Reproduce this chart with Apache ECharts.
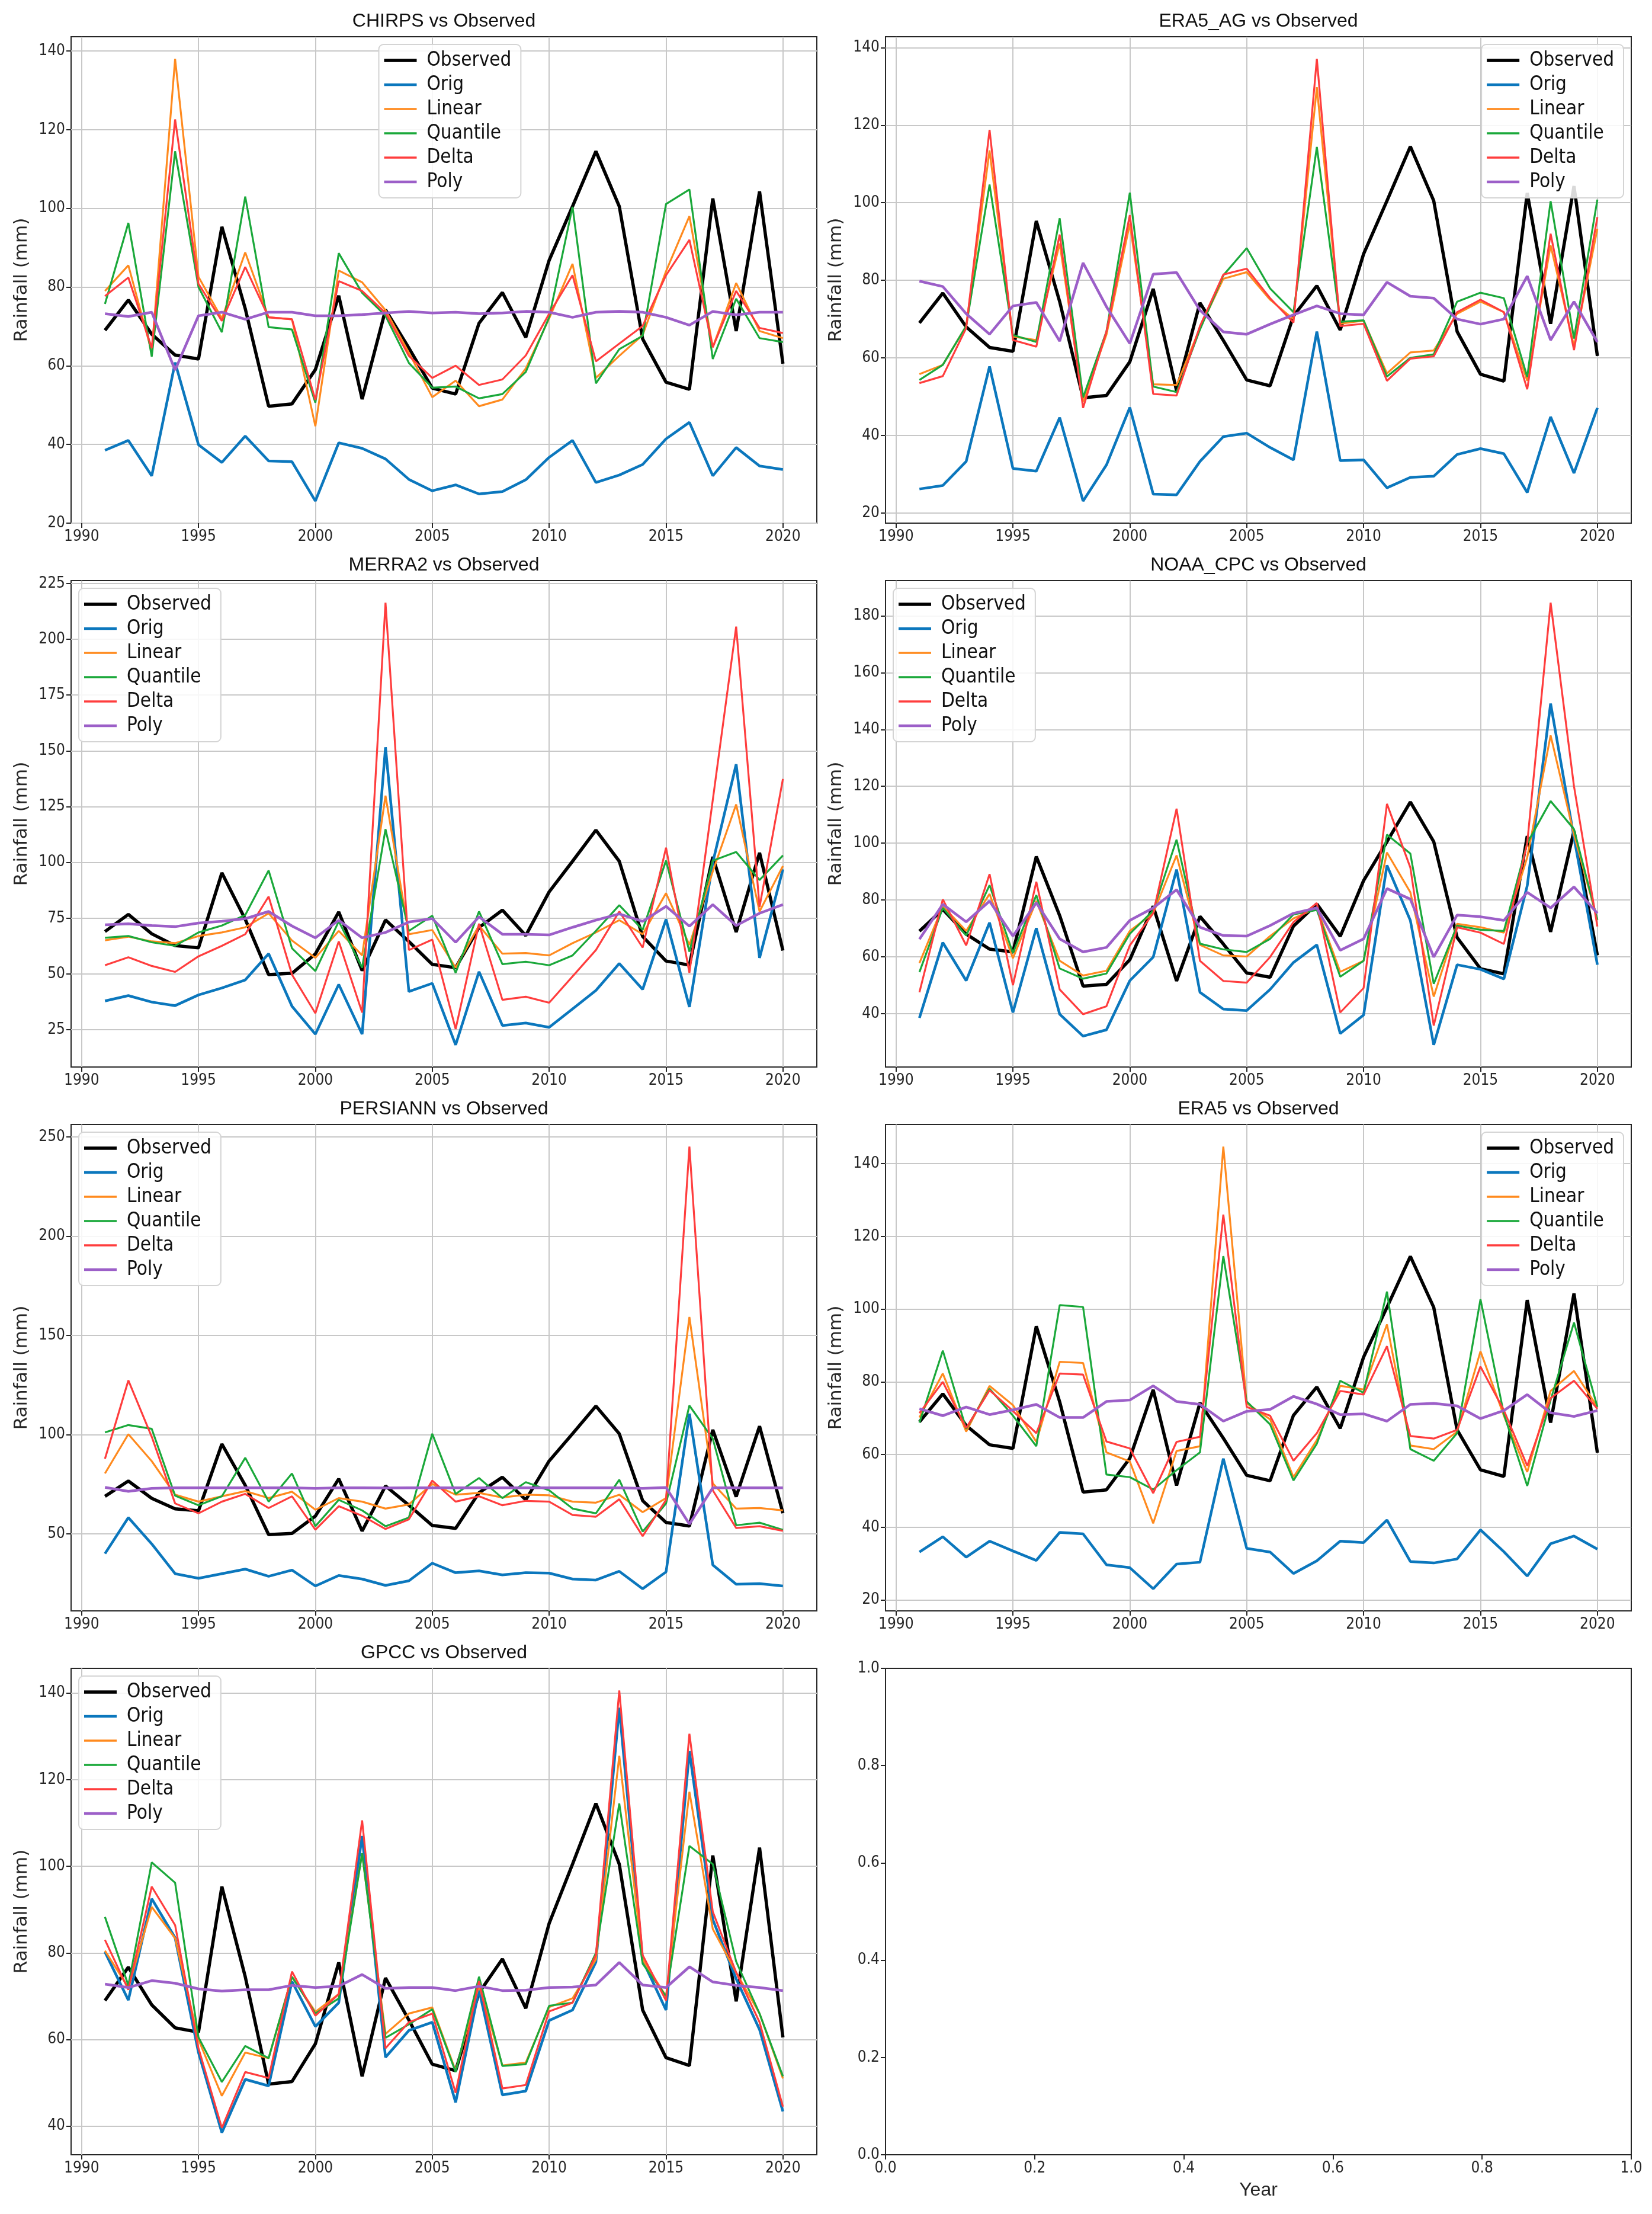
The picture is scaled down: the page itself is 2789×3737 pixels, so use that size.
<!DOCTYPE html>
<html><head><meta charset="utf-8">
<script src="https://cdn.jsdelivr.net/npm/echarts@6/dist/echarts.min.js"></script>
<style>html,body{margin:0;padding:0;background:#fff}#c{width:2789px;height:3737px}</style>
</head><body><div id="c"></div><script>
const years = [1991,1992,1993,1994,1995,1996,1997,1998,1999,2000,2001,2002,2003,2004,2005,2006,2007,2008,2009,2010,2011,2012,2013,2014,2015,2016,2017,2018,2019,2020];
const observed = [69.0,76.7,68.0,62.7,61.7,95.3,74.5,49.7,50.3,59.0,77.8,51.5,74.2,64.5,54.3,52.8,70.8,78.6,67.2,86.8,100.5,114.5,100.5,66.8,55.8,54.0,102.5,68.8,104.3,60.5];

const chirps_orig = [38.5,41.0,32.0,60.8,39.9,35.4,42.1,35.8,35.6,25.6,40.4,39.0,36.3,31.1,28.2,29.7,27.4,28.0,31.0,36.7,41.0,30.3,32.2,34.9,41.4,45.6,32.0,39.2,34.5,33.6];
const chirps_linear = [79.0,85.5,63.5,138.0,82.6,72.0,88.8,72.3,71.8,44.6,84.2,81.2,74.1,63.3,52.0,56.2,49.7,51.4,59.3,72.0,85.9,56.9,62.5,67.8,84.0,98.0,64.7,81.0,68.8,67.0];
const chirps_quantile = [75.7,96.3,62.3,114.5,80.0,68.5,103.0,69.8,69.2,50.6,88.6,78.5,72.7,60.7,54.4,54.7,51.7,52.8,58.4,72.3,100.4,55.5,64.2,67.6,101.1,104.8,61.7,77.0,67.0,66.0];
const chirps_delta = [77.7,82.4,64.5,122.6,80.8,71.4,85.1,72.3,71.8,51.3,81.5,79.0,73.4,62.5,56.9,60.0,55.1,56.5,62.6,73.2,83.0,61.1,65.6,70.1,83.0,92.0,64.7,79.0,69.6,68.3];
const chirps_poly = [73.2,72.5,73.6,58.9,72.7,73.6,71.8,73.6,73.6,72.7,72.7,73.0,73.4,73.8,73.4,73.6,73.2,73.4,73.8,73.6,72.3,73.6,73.8,73.6,72.3,70.3,73.8,72.9,73.6,73.6];

const era5ag_orig = [26.2,27.1,33.3,57.8,31.5,30.8,44.6,23.1,32.4,47.2,24.9,24.7,33.3,39.7,40.6,36.9,33.7,66.8,33.5,33.7,26.5,29.2,29.5,35.1,36.6,35.3,25.3,44.8,30.3,47.1];
const era5ag_linear = [55.8,58.2,68.2,113.5,65.5,64.6,89.5,48.7,66.0,94.6,53.2,53.0,67.7,80.4,82.1,75.0,70.0,129.8,68.8,69.6,56.0,61.4,61.9,71.4,74.5,71.8,54.1,89.0,63.0,93.3];
const era5ag_quantile = [54.3,58.2,68.2,104.7,65.9,64.1,96.0,49.8,66.8,102.6,52.6,51.2,67.3,81.3,88.3,77.9,71.8,114.4,69.3,69.7,55.2,60.0,60.9,74.5,76.8,75.4,55.1,100.4,65.0,100.8];
const era5ag_delta = [53.5,55.3,67.7,118.8,64.6,62.9,91.8,47.1,66.8,96.8,50.7,50.3,68.2,81.5,83.0,75.4,69.1,137.1,68.2,68.8,54.1,59.8,60.4,71.8,75.0,71.8,51.9,92.0,62.0,96.3];
const era5ag_poly = [79.8,78.4,71.4,66.1,73.4,74.3,64.3,84.5,73.2,63.7,81.6,82.0,72.3,66.7,66.1,68.7,71.1,73.4,71.4,71.1,79.5,75.9,75.4,70.0,68.7,70.0,81.1,64.6,74.5,64.1];

const merra2_orig = [37.9,40.3,37.4,35.8,40.6,43.7,47.3,59.1,35.5,23.0,45.3,23.0,151.6,42.1,45.8,18.2,51.0,26.9,28.0,26.1,34.3,42.6,54.7,43.1,74.5,35.2,100.0,144.0,57.2,96.9];
const merra2_linear = [65.1,66.7,64.6,63.8,67.0,68.6,70.9,77.2,65.0,57.2,69.3,58.3,129.9,67.8,69.7,52.8,71.7,59.1,59.4,58.3,63.8,68.6,74.1,67.8,86.2,63.0,96.0,126.0,78.0,98.4];
const merra2_quantile = [66.2,67.0,64.2,62.6,68.6,71.7,76.4,96.4,61.5,51.3,73.6,52.8,114.9,69.3,76.1,50.5,78.0,54.4,55.5,53.9,58.3,69.3,80.8,69.8,100.8,60.0,100.8,104.7,92.1,103.1];
const merra2_delta = [53.9,57.5,53.6,50.9,57.9,62.6,67.8,84.7,49.7,32.4,64.6,32.7,216.4,60.7,65.4,25.3,72.5,38.4,39.8,37.1,48.9,60.7,78.0,61.8,106.6,50.5,128.0,205.7,80.0,137.4];
const merra2_poly = [72.0,72.5,71.7,71.2,72.8,73.6,74.8,78.0,71.5,66.2,74.1,66.2,68.6,73.3,74.8,64.2,75.6,67.8,67.8,67.5,70.9,74.1,76.9,73.6,80.3,71.4,81.1,71.7,77.2,81.1];

const noaa_orig = [38.5,65.0,51.6,72.0,40.4,70.1,39.8,32.1,34.3,51.6,59.9,90.7,47.5,41.6,41.1,48.5,58.0,64.2,33.0,39.5,92.2,72.8,29.0,57.2,55.6,52.2,85.0,149.1,102.0,57.2];
const noaa_linear = [57.8,77.8,69.1,82.1,59.5,79.6,58.6,53.4,55.1,69.1,75.3,95.7,64.2,60.5,60.1,67.3,73.5,77.2,54.7,58.6,96.7,82.7,46.0,71.6,70.4,68.5,95.0,137.9,103.0,73.0];
const noaa_quantile = [54.6,77.2,67.5,85.2,61.3,81.7,55.9,52.3,54.1,68.1,76.3,101.2,64.6,62.6,61.7,66.3,74.9,76.5,53.0,58.6,103.0,96.3,50.5,71.0,69.5,69.1,100.0,114.8,104.9,73.0];
const noaa_delta = [47.5,80.2,64.0,89.1,50.0,86.4,48.5,39.8,42.6,64.0,75.3,112.1,58.6,51.5,50.9,59.9,72.2,78.9,40.4,49.0,113.8,91.4,35.8,70.4,68.5,64.5,100.0,184.6,120.0,70.7];
const noaa_poly = [66.2,78.5,72.3,79.6,67.3,79.0,66.3,61.7,63.3,72.8,77.2,83.6,70.4,67.5,67.3,71.0,75.3,77.2,62.3,66.3,84.0,80.3,59.9,74.7,74.1,72.8,82.7,77.2,84.6,75.3];

const persiann_orig = [40.1,58.3,45.0,30.0,27.7,30.0,32.3,28.7,31.8,23.8,29.1,27.3,24.1,26.4,35.3,30.5,31.4,29.4,30.5,30.3,27.3,26.8,31.2,22.4,30.9,110.6,34.4,24.7,25.0,23.8];
const persiann_linear = [80.5,100.3,86.7,69.8,66.3,69.0,71.6,68.1,71.3,62.2,68.1,66.3,62.8,64.9,75.2,69.8,70.7,68.4,69.8,69.5,66.3,65.8,69.8,61.0,68.1,159.3,75.5,62.8,63.1,61.9];
const persiann_quantile = [101.2,104.9,103.0,69.3,64.5,69.0,88.4,66.3,80.5,53.9,67.2,61.9,53.9,58.3,100.5,70.2,78.2,68.1,76.1,72.0,62.8,60.4,77.3,51.2,65.4,114.7,98.0,54.4,55.7,52.1];
const persiann_delta = [87.9,127.4,99.0,65.4,60.4,66.3,70.2,63.1,69.0,52.1,64.0,59.2,52.5,57.4,76.9,66.3,69.0,64.5,66.7,66.3,59.6,58.7,67.5,48.9,67.2,245.2,72.0,53.0,53.9,51.6];
const persiann_poly = [73.5,71.5,73.0,73.3,73.3,73.3,73.3,73.3,73.3,73.0,73.3,73.3,73.2,73.3,73.3,73.3,73.3,73.3,73.3,73.3,73.3,73.3,73.3,73.0,73.4,55.0,73.3,73.3,73.3,73.3];

const era5_orig = [33.2,37.4,31.8,36.2,33.5,30.9,38.6,38.2,29.7,28.9,23.1,29.9,30.4,58.9,34.2,33.2,27.3,30.8,36.2,35.8,42.0,30.6,30.2,31.3,39.3,33.3,26.6,35.5,37.6,34.0];
const era5_linear = [70.2,82.3,66.3,78.9,73.6,63.5,85.5,85.2,60.6,58.1,41.1,61.0,62.3,144.7,74.1,69.7,53.8,64.0,78.9,77.9,95.8,62.5,61.5,66.3,88.4,70.7,55.2,77.5,83.0,73.1];
const era5_quantile = [68.8,88.6,67.1,78.1,70.7,62.3,101.1,100.6,54.5,53.8,50.4,55.7,60.6,114.6,74.6,68.3,52.9,63.0,80.3,77.0,104.8,61.5,58.3,65.9,102.7,71.2,51.4,75.0,96.3,73.1];
const era5_delta = [71.4,80.0,67.3,77.7,72.0,65.9,82.3,82.0,63.6,61.7,49.4,63.5,64.9,126.0,73.1,70.7,58.3,65.9,77.5,76.5,89.8,65.1,64.4,66.8,84.2,72.2,56.9,75.5,80.3,72.6];
const era5_poly = [72.6,70.7,73.1,71.0,72.3,73.8,70.2,70.2,74.6,75.0,78.9,74.6,73.8,69.2,71.9,72.4,76.0,73.9,71.0,71.2,69.2,73.8,74.1,73.4,69.9,72.1,76.5,71.5,70.5,72.1];

const gpcc_orig = [80.2,69.1,92.5,83.5,57.0,38.5,50.8,49.3,73.4,63.0,68.5,107.0,55.9,62.1,64.0,45.5,71.5,47.2,48.1,64.4,66.8,77.9,136.6,78.3,66.8,126.6,87.7,74.0,62.3,43.4];
const gpcc_linear = [80.5,72.0,90.6,83.4,60.0,47.0,57.0,55.7,74.5,66.4,70.5,103.0,61.3,66.0,67.4,52.8,72.5,54.0,54.7,67.5,69.5,78.5,125.5,78.5,70.0,117.2,85.5,75.5,66.0,51.0];
const gpcc_quantile = [88.3,72.5,100.9,96.2,60.5,50.2,58.5,55.7,74.5,66.0,69.5,103.0,60.4,63.5,67.0,52.5,74.5,53.9,54.3,67.8,68.5,80.0,114.5,77.5,70.0,104.7,100.5,78.0,66.0,51.5];
const gpcc_delta = [83.0,71.5,95.3,86.4,58.0,39.6,52.5,51.1,75.7,65.5,70.5,110.6,58.0,64.0,66.0,47.7,73.5,48.7,49.5,66.5,68.5,79.5,140.6,79.5,69.0,130.6,89.5,75.5,64.0,44.5];
const gpcc_poly = [72.8,72.0,73.6,73.0,71.7,71.2,71.5,71.5,72.5,72.0,72.3,75.0,71.8,72.0,72.0,71.3,72.3,71.3,71.4,72.0,72.1,72.6,77.8,72.6,72.0,76.8,73.3,72.5,72.0,71.3];

const xTicks = [1990,1995,2000,2005,2010,2015,2020];
const ticks20to140 = [20,40,60,80,100,120,140];
const merra2Ticks = [25,50,75,100,125,150,175,200,225];
const noaaTicks = [40,60,80,100,120,140,160,180];
const persiannTicks = [50,100,150,200,250];
const gpccTicks = [40,60,80,100,120,140];
const seriesNames = ['Observed','Orig','Linear','Quantile','Delta','Poly'];
const panelTitles = ['CHIRPS vs Observed','ERA5_AG vs Observed','MERRA2 vs Observed','NOAA_CPC vs Observed','PERSIANN vs Observed','ERA5 vs Observed','GPCC vs Observed'];

const panels = [
  {set:[chirps_orig,chirps_linear,chirps_quantile,chirps_delta,chirps_poly], ticks:ticks20to140, legend:'center'},
  {set:[era5ag_orig,era5ag_linear,era5ag_quantile,era5ag_delta,era5ag_poly], ticks:ticks20to140, legend:'right'},
  {set:[merra2_orig,merra2_linear,merra2_quantile,merra2_delta,merra2_poly], ticks:merra2Ticks, legend:'left'},
  {set:[noaa_orig,noaa_linear,noaa_quantile,noaa_delta,noaa_poly], ticks:noaaTicks, legend:'left'},
  {set:[persiann_orig,persiann_linear,persiann_quantile,persiann_delta,persiann_poly], ticks:persiannTicks, legend:'left'},
  {set:[era5_orig,era5_linear,era5_quantile,era5_delta,era5_poly], ticks:ticks20to140, legend:'right'},
  {set:[gpcc_orig,gpcc_linear,gpcc_quantile,gpcc_delta,gpcc_poly], ticks:gpccTicks, legend:'left'}
];

const COLORS = ['#000000','#0b77bd','#ff8a1e','#1aa83a','#ff3d3d','#9c5fc8'];
const WIDTHS = [5.5,4.5,3.2,3.2,3.2,4.5];
const ICONS = ['path://M0,0H100V10H0Z','path://M0,0H100V8H0Z','path://M0,0H100V6H0Z','path://M0,0H100V6H0Z','path://M0,0H100V6H0Z','path://M0,0H100V8H0Z'];
const NARROW = "'Liberation Sans Narrow','DejaVu Sans Condensed','Liberation Sans',sans-serif";
const REG = "'Liberation Sans','DejaVu Sans',sans-serif";
const INK = '#262626';

const colLeft = [120, 1495], W = 1259;
const rowTop = [62, 980, 1898, 2816], H = 821;

const grids = [], xAxes = [], yAxes = [], series = [], legends = [], graphics = [];

function gridFor(i){
  const c = i % 2, r = Math.floor(i / 2);
  return {left: colLeft[c], top: rowTop[r], width: W, height: H, show: true,
          borderColor: INK, borderWidth: 2, backgroundColor: 'rgba(0,0,0,0)'};
}
const tickStyle = {show: true, length: 8, inside: false, lineStyle: {color: INK, width: 2}};
const labelBase = {fontSize: 26, color: INK, fontFamily: NARROW};

panels.forEach((p, i) => {
  grids.push(gridFor(i));
  const all = [observed].concat(p.set).flat();
  const lo = Math.min(...all), hi = Math.max(...all), pad = (hi - lo) * 0.05;
  xAxes.push({type: 'value', gridIndex: i, min: 1989.55, max: 2021.45,
    axisLine: {show: false}, axisTick: Object.assign({customValues: xTicks}, tickStyle),
    axisLabel: Object.assign({customValues: xTicks, margin: 10, formatter: v => String(v)}, labelBase),
    splitLine: {show: true, lineStyle: {color: '#c8c8c8', width: 2}}});
  yAxes.push({type: 'value', gridIndex: i, min: lo - pad, max: hi + pad,
    axisLine: {show: false}, axisTick: Object.assign({customValues: p.ticks}, tickStyle),
    axisLabel: Object.assign({customValues: p.ticks, margin: 10, formatter: v => String(v)}, labelBase),
    splitLine: {show: true, lineStyle: {color: '#c8c8c8', width: 2}},
    name: 'Rainfall (mm)', nameLocation: 'middle', nameGap: 68, nameRotate: 90,
    nameTextStyle: {fontSize: 31, color: INK, fontFamily: "'DejaVu Sans',sans-serif"}});
  const vals = [observed].concat(p.set);
  vals.forEach((arr, k) => {
    series.push({type: 'line', name: seriesNames[k], xAxisIndex: i, yAxisIndex: i,
      data: years.map((y, j) => [y, arr[j]]), showSymbol: false, symbol: 'none',
      color: COLORS[k], lineStyle: {color: COLORS[k], width: WIDTHS[k]}, animation: false, z: 2 + k * 0.01});
  });
  const c = i % 2, r = Math.floor(i / 2);
  const lg = {show: true, orient: 'vertical', top: rowTop[r] + 13, selectedMode: false,
    data: seriesNames.map((n, k) => ({name: n, icon: ICONS[k], itemStyle: {color: COLORS[k]}})),
    itemWidth: 55, itemHeight: 8, itemGap: 7, symbolKeepAspect: true,
    backgroundColor: 'rgba(255,255,255,0.85)', borderColor: '#d4d4d4', borderWidth: 2, borderRadius: 8,
    padding: [10, 16, 10, 9],
    textStyle: {fontSize: 33, lineHeight: 34, color: '#111', fontFamily: NARROW, padding: [0, 0, 0, 12]}};
  if (p.legend === 'left') lg.left = colLeft[c] + 13;
  else if (p.legend === 'right') lg.right = 2789 - (colLeft[c] + W - 13);
  else lg.left = colLeft[c] + W / 2 - 110;
  legends.push(lg);
  graphics.push({type: 'text', x: colLeft[c] + W / 2, y: rowTop[r] - 26,
    style: {text: panelTitles[i], align: 'center', verticalAlign: 'middle', fontSize: 32, fontFamily: REG, fill: '#111'}});
});

// empty eighth panel
grids.push(gridFor(7));
xAxes.push({type: 'value', gridIndex: 7, min: 0, max: 1, interval: 0.2,
  axisLine: {show: false}, axisTick: tickStyle,
  axisLabel: Object.assign({margin: 10, formatter: v => v.toFixed(1)}, labelBase),
  splitLine: {show: false},
  name: 'Year', nameLocation: 'middle', nameGap: 44,
  nameTextStyle: {fontSize: 32, color: INK, fontFamily: REG}});
yAxes.push({type: 'value', gridIndex: 7, min: 0, max: 1, interval: 0.2,
  axisLine: {show: false}, axisTick: tickStyle,
  axisLabel: Object.assign({margin: 10, formatter: v => v.toFixed(1)}, labelBase),
  splitLine: {show: false}});

const chart = echarts.init(document.getElementById('c'), null, {renderer: 'canvas'});
chart.setOption({
  animation: false, backgroundColor: '#ffffff',
  grid: grids, xAxis: xAxes, yAxis: yAxes, series: series, legend: legends, graphic: graphics
});
</script></body></html>
